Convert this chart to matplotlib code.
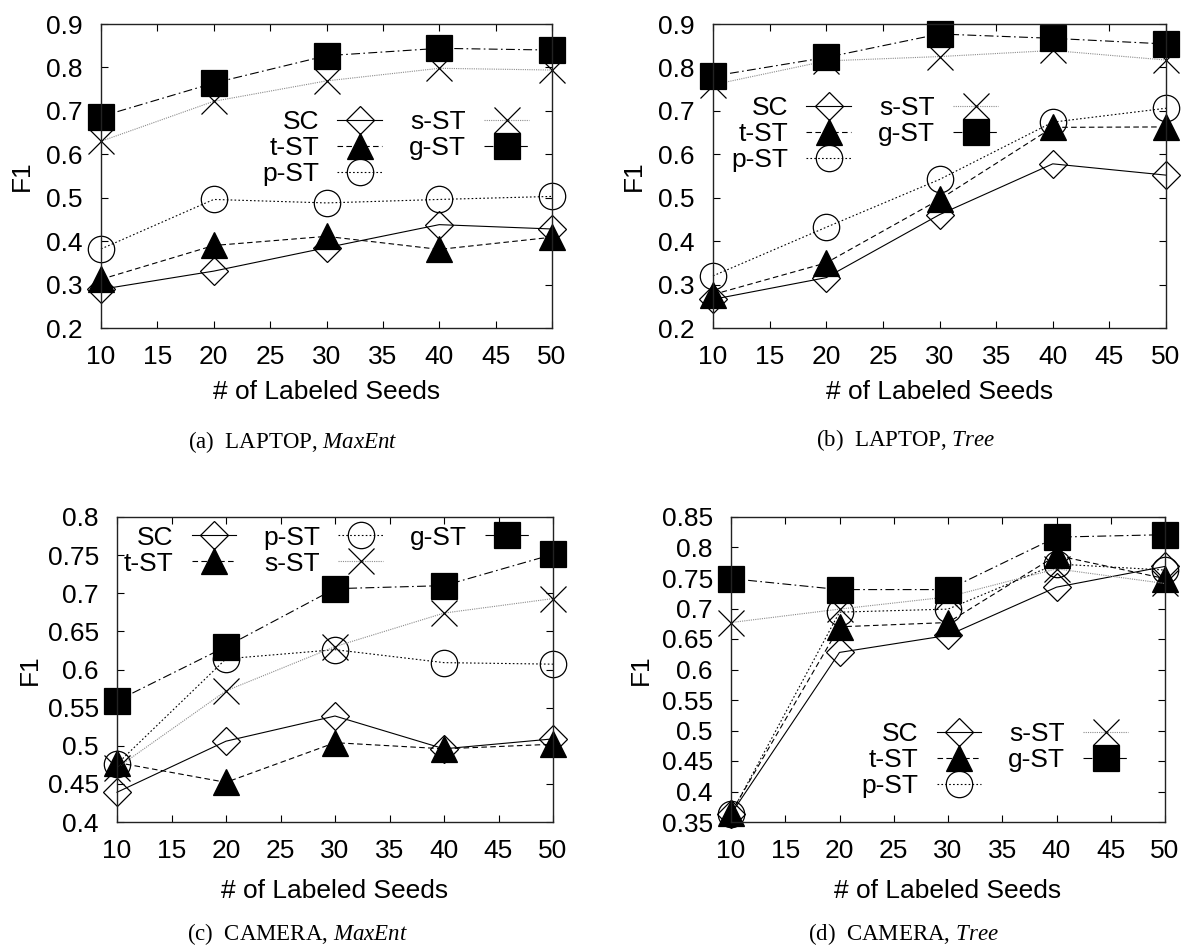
import matplotlib
matplotlib.use('Agg')
import matplotlib.pyplot as plt
import numpy as np

plt.rcParams['font.family'] = ['Liberation Sans', 'DejaVu Sans']
plt.rcParams['mathtext.fontset'] = 'custom'
plt.rcParams['mathtext.rm'] = 'Liberation Serif'
plt.rcParams['mathtext.it'] = 'Liberation Serif:italic'

seeds = [10, 20, 30, 40, 50]
methods = ['SC', 't-ST', 'p-ST', 's-ST', 'g-ST']

# F1 per method, order as in methods
laptop_maxent = [
    [0.289, 0.331, 0.385, 0.438, 0.428],
    [0.312, 0.390, 0.411, 0.381, 0.409],
    [0.382, 0.496, 0.488, 0.496, 0.503],
    [0.630, 0.722, 0.769, 0.798, 0.794],
    [0.687, 0.764, 0.827, 0.844, 0.840],
]
laptop_tree = [
    [0.266, 0.316, 0.461, 0.578, 0.552],
    [0.277, 0.350, 0.496, 0.662, 0.663],
    [0.320, 0.432, 0.542, 0.674, 0.706],
    [0.760, 0.815, 0.825, 0.839, 0.817],
    [0.780, 0.823, 0.877, 0.867, 0.854],
]
camera_maxent = [
    [0.439, 0.506, 0.539, 0.496, 0.509],
    [0.478, 0.452, 0.504, 0.496, 0.502],
    [0.476, 0.614, 0.626, 0.609, 0.607],
    [0.471, 0.572, 0.630, 0.674, 0.693],
    [0.559, 0.630, 0.706, 0.710, 0.751],
]
camera_tree = [
    [0.363, 0.628, 0.656, 0.735, 0.769],
    [0.365, 0.670, 0.677, 0.787, 0.749],
    [0.363, 0.694, 0.699, 0.773, 0.763],
    [0.677, 0.699, 0.719, 0.765, 0.741],
    [0.749, 0.731, 0.731, 0.817, 0.821],
]

styles = {
    'SC':   dict(color='black', ls='-', marker='D', ms=14, mfc='none', mec='black'),
    't-ST': dict(color='black', ls=(0, (5, 3)), marker='^', ms=19, mfc='black', mec='black'),
    'p-ST': dict(color='black', ls=(0, (1.5, 2)), marker='o', ms=19, mfc='none', mec='black'),
    's-ST': dict(color='0.55', ls=(0, (1, 1)), marker='x', ms=19, mec='black'),
    'g-ST': dict(color='black', ls=(0, (8, 3, 1.5, 3)), marker='s', ms=19, mfc='black', mec='black'),
}

W, H = 1185, 947
fig = plt.figure(figsize=(W / 100, H / 100), dpi=100)

panels = [
    # data, axes box (px: left, top, right, bottom), ylim, ystep, legend ncol, legend anchor,
    # ylabel x, xlabel y, caption, caption pos
    (laptop_maxent, (101, 24, 552, 328), (0.2, 0.9), 0.1, 2, (0.949, 0.717),
     -0.175, -0.21, r'(a)  LAPTOP, $\it{MaxEnt}$', (293, 442)),
    (laptop_tree, (713, 24, 1166, 328), (0.2, 0.9), 0.1, 2, (0.629, 0.763),
     -0.174, -0.21, r'(b)  LAPTOP, $\it{Tree}$', (906, 440)),
    (camera_maxent, (117, 517, 553, 822), (0.4, 0.8), 0.05, 3, (0.947, 0.972),
     -0.2, -0.226, r'(c)  CAMERA, $\it{MaxEnt}$', (297, 934)),
    (camera_tree, (731, 517, 1165, 822), (0.35, 0.85), 0.05, 2, (0.915, 0.328),
     -0.207, -0.226, r'(d)  CAMERA, $\it{Tree}$', (903, 934)),
]

for data, box, ylim, ystep, ncol, anchor, ylx, xly, caption, cpos in panels:
    l, t, r, b = box
    ax = fig.add_axes([l / W, 1 - b / H, (r - l) / W, (b - t) / H])
    for name, vals in zip(methods, data):
        ax.plot(seeds, vals, label=name, lw=0.8, mew=0.9, clip_on=False, **styles[name])
    ax.set_xlim(10, 50)
    ax.set_ylim(*ylim)
    ax.set_xticks(np.arange(10, 51, 5))
    yt = np.round(np.arange(ylim[0], ylim[1] + 1e-9, ystep), 2)
    ax.set_yticks(yt)
    ax.set_yticklabels([f'{v:g}' for v in yt])
    ax.tick_params(direction='in', top=True, right=True, length=5, width=0.8,
                   labelsize=19, colors='black')
    ax.tick_params(axis='x', pad=12)
    ax.tick_params(axis='y', pad=13)
    for sp in ax.spines.values():
        sp.set_linewidth(1.0)
        sp.set_color('#222222')
    ax.set_xlabel('# of Labeled Seeds', fontsize=19, va='center')
    ax.xaxis.set_label_coords(0.5, xly)
    ax.set_ylabel('F1', fontsize=19, va='center')
    ax.yaxis.set_label_coords(ylx, 0.5)
    ax.legend(loc='upper right', bbox_to_anchor=anchor, ncol=ncol, frameon=False,
              markerfirst=False, fontsize=19, borderaxespad=0, borderpad=0,
              handlelength=1.7, handletextpad=0.7, columnspacing=1.0,
              labelspacing=0.08, numpoints=1)
    fig.text(cpos[0] / W, 1 - cpos[1] / H, caption, ha='center', va='center',
             fontsize=16.5, family='Liberation Serif')

fig.savefig('out.png', dpi=100)
